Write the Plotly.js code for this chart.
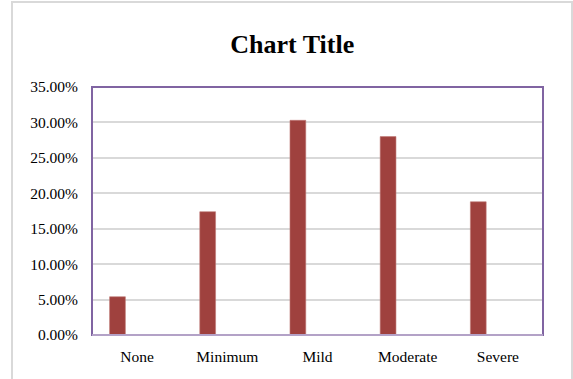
<!DOCTYPE html>
<html>
<head>
<meta charset="utf-8">
<script src="https://cdn.plot.ly/plotly-3.0.1.min.js"></script>
<style>
  html, body { margin: 0; padding: 0; background: #fff; }
  #chart { width: 573px; height: 379px; }
</style>
</head>
<body>
<div id="chart"></div>
<script>
// Severity categories and the share of responses in each
const categories = ['None', 'Minimum', 'Mild', 'Moderate', 'Severe'];
const shares = [0.054, 0.174, 0.303, 0.280, 0.188];
const yTicks = [0, 0.05, 0.10, 0.15, 0.20, 0.25, 0.30, 0.35];

const serif = 'Liberation Serif, Times New Roman, serif';

const trace = {
  type: 'bar',
  x: categories,
  y: shares,
  width: 0.175,
  offset: -0.305,
  marker: { color: '#9F413E', line: { color: '#C07876', width: 0.6 } },
  hoverinfo: 'x+y'
};

const layout = {
  width: 573,
  height: 379,
  margin: { l: 92, r: 30, t: 87, b: 44 },
  paper_bgcolor: '#ffffff',
  plot_bgcolor: '#ffffff',
  showlegend: false,
  title: {
    text: '<b>Chart Title</b>',
    font: { family: serif, size: 26, color: '#000' },
    x: 0.51, xanchor: 'center',
    y: 0.885, yanchor: 'middle'
  },
  xaxis: {
    type: 'category',
    range: [-0.5, categories.length - 0.5],
    showgrid: false,
    zeroline: false,
    showline: false,
    ticks: '',
    ticklabelstandoff: 10,
    tickfont: { family: serif, size: 15.5, color: '#000' }
  },
  yaxis: {
    range: [0, 0.35],
    tickvals: yTicks,
    tickformat: '.2%',
    showgrid: true,
    gridcolor: '#d9d9d9',
    gridwidth: 2,
    zeroline: false,
    showline: false,
    ticks: '',
    ticklabelstandoff: 13,
    tickfont: { family: serif, size: 15.5, color: '#000' }
  },
  shapes: [
    // outer chart frame
    {
      type: 'rect', xref: 'paper', yref: 'paper', layer: 'below',
      x0: -0.1774, x1: 1.0643, y0: -0.25, y1: 1.3427,
      line: { color: '#d9d9d9', width: 2 }, fillcolor: 'rgba(0,0,0,0)'
    },
    // plot area border
    {
      type: 'rect', xref: 'paper', yref: 'paper', layer: 'above',
      x0: 0, x1: 1, y0: 0, y1: 1,
      line: { color: '#8064A2', width: 2 }, fillcolor: 'rgba(0,0,0,0)'
    },
    // category axis line along the bottom
    {
      type: 'line', xref: 'paper', yref: 'paper', layer: 'above',
      x0: 0, x1: 1, y0: 0, y1: 0,
      line: { color: '#B3A2C7', width: 2 }
    }
  ]
};

Plotly.newPlot('chart', [trace], layout, { displayModeBar: false, staticPlot: true });
</script>
</body>
</html>
